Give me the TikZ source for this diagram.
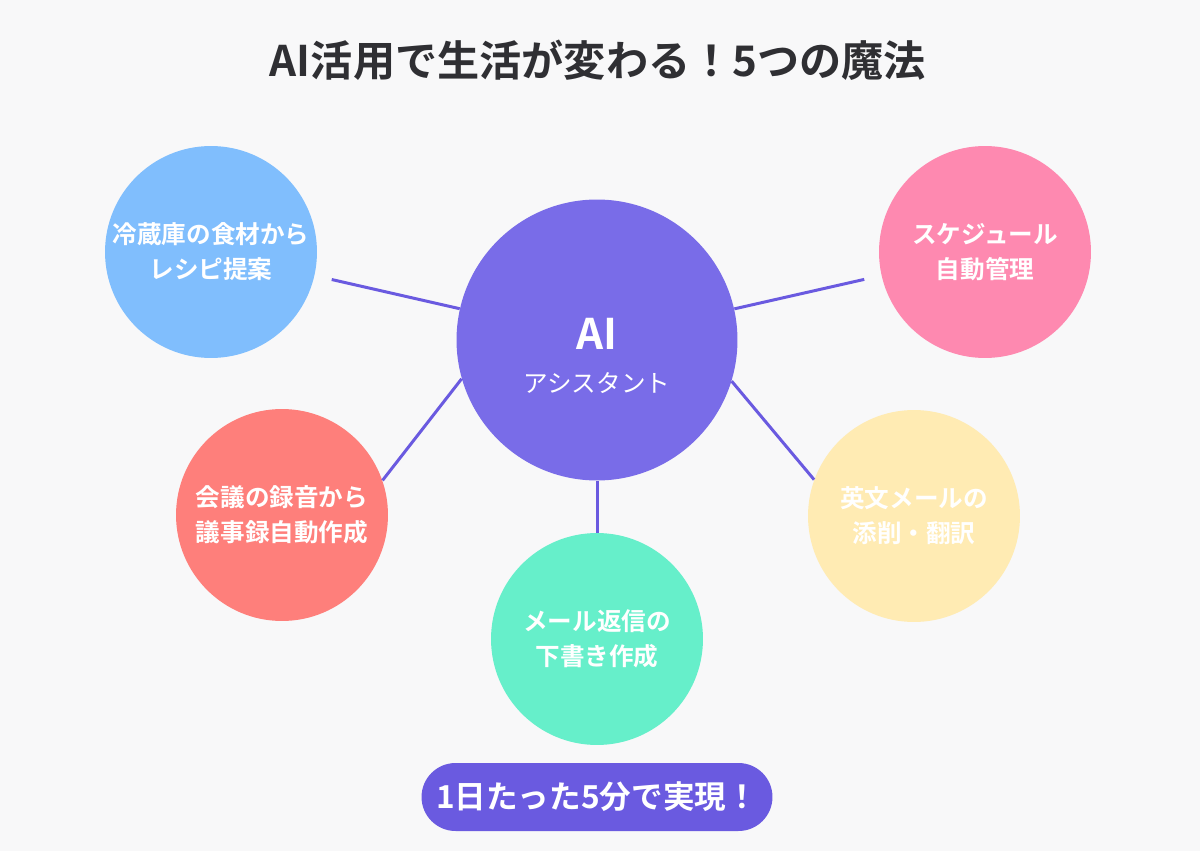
\documentclass[tikz,border=0pt]{standalone}
\usepackage{fontspec}
\setmainfont{Noto Sans CJK JP}
\newfontfamily\jpbold{Noto Sans CJK JP Bold}
\usetikzlibrary{positioning}
\definecolor{bgcol}{HTML}{F8F8F9}
\definecolor{aicol}{HTML}{796CE8}
\definecolor{linecol}{HTML}{6A5AE0}
\definecolor{bluecol}{HTML}{80BEFD}
\definecolor{pinkcol}{HTML}{FE89B0}
\definecolor{redcol}{HTML}{FE7F7B}
\definecolor{yellowcol}{HTML}{FFEBB3}
\definecolor{mintcol}{HTML}{66EFCA}
\definecolor{titlecol}{HTML}{2F2F33}
\tikzset{
  usecase/.style={circle,minimum size=4.24cm,inner sep=0pt,text=white,
    font=\jpbold\fontsize{14}{20}\selectfont,align=center},
  link/.style={linecol,line width=1.7pt}
}
\begin{document}
\begin{tikzpicture}[x=0.02cm,y=-0.02cm]
		\fill[bgcol] (0,0) rectangle (1200,851);
		\node[text=titlecol,font=\jpbold\fontsize{24}{28}\selectfont] (title) at (598,60) {AI活用で生活が変わる！5つの魔法};
		\node[circle,fill=aicol,minimum size=5.62cm,inner sep=0pt] (ai) at (597,340) {};
		\node[text=white,font=\jpbold\fontsize{24}{26}\selectfont] (ailabel) at (597,334) {AI};
		\node[text=white,font=\fontsize{14}{16}\selectfont] (aisub) at (597,383) {アシスタント};
		\node[usecase,fill=bluecol] (recipe) at (211,252) {冷蔵庫の食材から\\レシピ提案};
		\node[usecase,fill=pinkcol] (schedule) at (985,252) {スケジュール\\自動管理};
		\node[usecase,fill=redcol] (minutes) at (282,515) {会議の録音から\\議事録自動作成};
		\node[usecase,fill=yellowcol] (english) at (914,516) {英文メールの\\添削・翻訳};
		\node[usecase,fill=mintcol] (reply) at (597,639) {メール返信の\\下書き作成};
		\draw[link,shorten >=0.35cm] (ai) -- (recipe);
		\draw[link,shorten >=0.35cm] (ai) -- (schedule);
		\draw[link] (ai.196) -- (minutes.19);
		\draw[link] (ai.-17) -- (english.160);
		\draw[link] (ai) -- (reply);
		\node[fill=linecol,rounded corners=0.68cm,minimum width=7.02cm,minimum height=1.36cm,
		  text=white,font=\jpbold\fontsize{18}{20}\selectfont] (banner) at (597,797) {1日たった5分で実現！};
\end{tikzpicture}
\end{document}
